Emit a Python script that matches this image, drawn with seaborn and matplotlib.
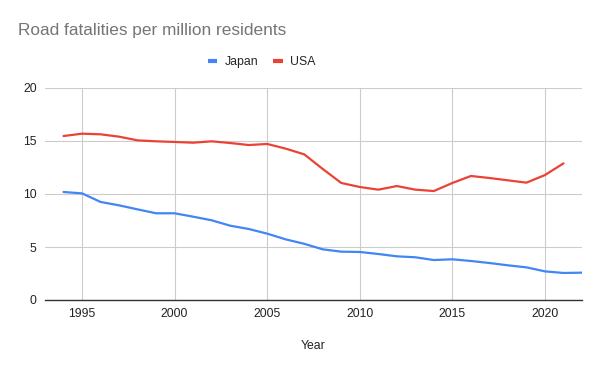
import matplotlib

matplotlib.use("Agg")

import matplotlib.pyplot as plt
import pandas as pd
import seaborn as sns
from matplotlib.lines import Line2D

years = list(range(1994, 2023))
japan = [10.19, 10.06, 9.25, 8.93, 8.55, 8.18, 8.18, 7.86, 7.52, 7.01,
         6.70, 6.26, 5.72, 5.30, 4.78, 4.56, 4.53, 4.34, 4.12, 4.03,
         3.77, 3.84, 3.68, 3.49, 3.27, 3.08, 2.70, 2.55, 2.58]
usa = [15.47, 15.69, 15.63, 15.41, 15.06, 14.97, 14.91, 14.84, 14.97, 14.81,
       14.62, 14.72, 14.28, 13.74, 12.36, 11.04, 10.66, 10.41, 10.75, 10.41,
       10.28, 11.04, 11.70, 11.51, 11.29, 11.07, 11.79, 12.89, None]
countries = ["Japan", "USA"]
colors = ["#4285F4", "#EA4335"]

df = pd.DataFrame({"Year": years, "Japan": japan, "USA": usa})
long = df.melt(id_vars="Year", var_name="country", value_name="value").dropna()

sns.set_theme(style="white")
plt.rcParams["font.family"] = ["Liberation Sans", "DejaVu Sans"]

fig = plt.figure(figsize=(6, 3.71), dpi=100)
ax = fig.add_axes([45 / 600, 71 / 371, 537 / 600, 212 / 371])

sns.lineplot(data=long, x="Year", y="value", hue="country", hue_order=countries,
             palette=colors, linewidth=1.6, legend=False, ax=ax)

ax.set_xlim(1993, 2022)
ax.set_ylim(0, 20)
ax.set_xticks(range(1995, 2021, 5))
ax.set_yticks(range(0, 21, 5))
ax.grid(True, color="#cccccc", linewidth=0.8)
ax.set_axisbelow(True)
for side in ["top", "right", "left"]:
    ax.spines[side].set_visible(False)
ax.spines["bottom"].set_color("#333333")
ax.spines["bottom"].set_linewidth(1.0)
ax.tick_params(axis="both", length=0, labelsize=8.8, labelcolor="#222222", pad=6)
ax.set_xlabel("Year", fontsize=8.8, color="#222222", labelpad=14)
ax.set_ylabel("")

fig.text(18 / 600, 1 - 31 / 371, "Road fatalities per million residents",
         fontsize=12.4, color="#757575", va="center", ha="left")

handles = [Line2D([], [], color=c, linewidth=3, solid_capstyle="butt") for c in colors]
fig.legend(handles, countries, loc="center", bbox_to_anchor=(0.436, 1 - 62 / 371),
           ncol=2, frameon=False, fontsize=8.8, handlelength=0.8,
           columnspacing=1.2, handletextpad=0.6)

fig.savefig("out.png", dpi=100)
